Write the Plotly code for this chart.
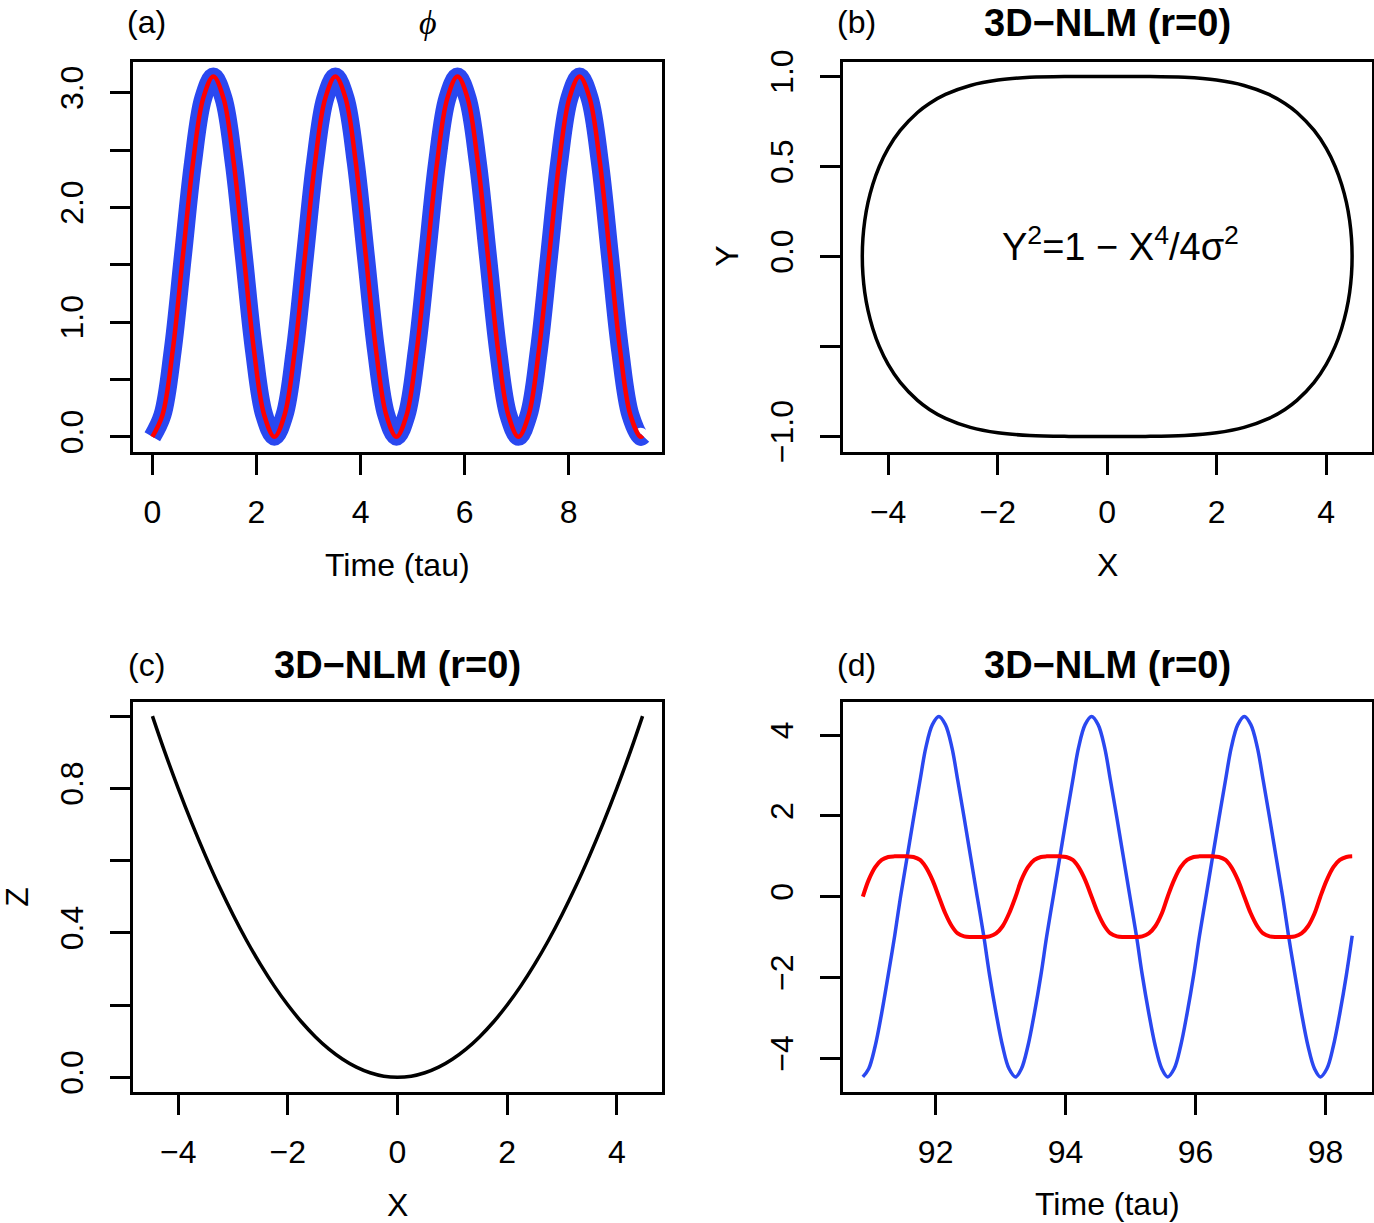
import plotly.graph_objects as go
from plotly.subplots import make_subplots

# (a) phi vs time
t_phi = [0, 0.195, 0.391, 0.586, 0.782, 0.977, 1.172, 1.368, 1.563, 1.759, 1.954, 2.149,
         2.345, 2.540, 2.736, 2.931, 3.126, 3.322, 3.517, 3.713, 3.908, 4.103, 4.299, 4.494,
         4.690, 4.885, 5.080, 5.276, 5.471, 5.667, 5.862, 6.057, 6.253, 6.448, 6.644, 6.839,
         7.034, 7.230, 7.425, 7.621, 7.816, 8.011, 8.207, 8.402, 8.598, 8.793, 8.988, 9.184,
         9.379, 9.42]
phi = [0, 0.190, 0.750, 1.571, 2.392, 2.951, 3.141, 2.951, 2.392, 1.571, 0.750, 0.190,
       0, 0.190, 0.750, 1.571, 2.392, 2.951, 3.141, 2.951, 2.392, 1.571, 0.750, 0.190,
       0, 0.190, 0.750, 1.571, 2.392, 2.951, 3.141, 2.951, 2.392, 1.571, 0.750, 0.190,
       0, 0.190, 0.750, 1.571, 2.392, 2.951, 3.141, 2.951, 2.392, 1.571, 0.750, 0.190,
       0, 0.01]

# (b) closed orbit in X-Y plane
x_upper = [-4.472, -4.461, -4.427, -4.368, -4.281, -4.162, -4.0, -3.779, -3.464, -3.246,
           -2.953, -2.499, -1.995, -1.414, -0.7, 0, 0.7, 1.414, 1.995, 2.499, 2.953, 3.246,
           3.464, 3.779, 4.0, 4.162, 4.281, 4.368, 4.427, 4.461, 4.472]
y_upper = [0, 0.1, 0.2, 0.3, 0.4, 0.5, 0.6, 0.7, 0.8, 0.85, 0.9, 0.95, 0.98, 0.995, 1.0, 1.0,
           1.0, 0.995, 0.98, 0.95, 0.9, 0.85, 0.8, 0.7, 0.6, 0.5, 0.4, 0.3, 0.2, 0.1, 0]
x_lower = [4.461, 4.427, 4.368, 4.281, 4.162, 4.0, 3.779, 3.464, 3.246, 2.953, 2.499, 1.995,
           1.414, 0.7, 0, -0.7, -1.414, -1.995, -2.499, -2.953, -3.246, -3.464, -3.779, -4.0,
           -4.162, -4.281, -4.368, -4.427, -4.461, -4.472]
y_lower = [-0.1, -0.2, -0.3, -0.4, -0.5, -0.6, -0.7, -0.8, -0.85, -0.9, -0.95, -0.98, -0.995,
           -1.0, -1.0, -1.0, -0.995, -0.98, -0.95, -0.9, -0.85, -0.8, -0.7, -0.6, -0.5, -0.4,
           -0.3, -0.2, -0.1, 0]

# (c) Z vs X
x_c = [-4.47, -4.25, -4.0, -3.75, -3.5, -3.25, -3.0, -2.75, -2.5, -2.25, -2.0, -1.75, -1.5,
       -1.25, -1.0, -0.75, -0.5, -0.25, 0, 0.25, 0.5, 0.75, 1.0, 1.25, 1.5, 1.75, 2.0, 2.25,
       2.5, 2.75, 3.0, 3.25, 3.5, 3.75, 4.0, 4.25, 4.47]
z_c = [1.0, 0.903, 0.8, 0.703, 0.6125, 0.528, 0.45, 0.378, 0.3125, 0.253, 0.2, 0.153, 0.1125,
       0.078, 0.05, 0.028, 0.0125, 0.003, 0, 0.003, 0.0125, 0.028, 0.05, 0.078, 0.1125, 0.153,
       0.2, 0.253, 0.3125, 0.378, 0.45, 0.528, 0.6125, 0.703, 0.8, 0.903, 1.0]

# (d) X and Y vs time
t_d = [90.88, 90.97, 91.07, 91.17, 91.27, 91.37, 91.46, 91.56, 91.66, 91.76, 91.85, 91.95,
       92.05, 92.15, 92.25, 92.34, 92.44, 92.54, 92.64, 92.74, 92.83, 92.93, 93.03, 93.13,
       93.23, 93.32, 93.42, 93.52, 93.62, 93.71, 93.81, 93.91, 94.01, 94.11, 94.20, 94.30,
       94.40, 94.50, 94.60, 94.69, 94.79, 94.89, 94.99, 95.09, 95.18, 95.28, 95.38, 95.48,
       95.57, 95.67, 95.77, 95.87, 95.97, 96.06, 96.16, 96.26, 96.36, 96.46, 96.55, 96.65,
       96.75, 96.85, 96.95, 97.04, 97.14, 97.24, 97.34, 97.43, 97.53, 97.63, 97.73, 97.83,
       97.92, 98.02, 98.12, 98.22, 98.32, 98.41]
x_d = [-4.463, -4.261, -3.698, -2.883, -1.942, -0.969, 0, 0.969, 1.942, 2.883, 3.698, 4.261,
       4.463, 4.261, 3.698, 2.883, 1.942, 0.969, 0, -0.969, -1.942, -2.883, -3.698, -4.261,
       -4.463, -4.261, -3.698, -2.883, -1.942, -0.969, 0, 0.969, 1.942, 2.883, 3.698, 4.261,
       4.463, 4.261, 3.698, 2.883, 1.942, 0.969, 0, -0.969, -1.942, -2.883, -3.698, -4.261,
       -4.463, -4.261, -3.698, -2.883, -1.942, -0.969, 0, 0.969, 1.942, 2.883, 3.698, 4.261,
       4.463, 4.261, 3.698, 2.883, 1.942, 0.969, 0, -0.969, -1.942, -2.883, -3.698, -4.261,
       -4.463, -4.261, -3.698, -2.883, -1.942, -0.969]
y_d = [0, 0.416, 0.732, 0.910, 0.982, 0.999, 1, 0.999, 0.982, 0.910, 0.732, 0.416,
       0, -0.416, -0.732, -0.910, -0.982, -0.999, -1, -0.999, -0.982, -0.910, -0.732, -0.416,
       0, 0.416, 0.732, 0.910, 0.982, 0.999, 1, 0.999, 0.982, 0.910, 0.732, 0.416,
       0, -0.416, -0.732, -0.910, -0.982, -0.999, -1, -0.999, -0.982, -0.910, -0.732, -0.416,
       0, 0.416, 0.732, 0.910, 0.982, 0.999, 1, 0.999, 0.982, 0.910, 0.732, 0.416,
       0, -0.416, -0.732, -0.910, -0.982, -0.999, -1, -0.999, -0.982, -0.910, -0.732, -0.416,
       0, 0.416, 0.732, 0.910, 0.982, 0.999]

BLUE = "#2a48f0"
RED = "#ff0000"
FONT = "Liberation Sans, Arial, sans-serif"
W, H = 1374, 1223

fig = make_subplots(rows=2, cols=2)

fig.add_trace(go.Scatter(x=t_phi, y=phi, mode="lines", line=dict(color=BLUE, width=18, shape="spline")), 1, 1)
fig.add_trace(go.Scatter(x=t_phi, y=phi, mode="lines", line=dict(color=RED, width=4.5, shape="spline")), 1, 1)
fig.add_trace(go.Scatter(x=x_upper + x_lower, y=y_upper + y_lower, mode="lines",
                         line=dict(color="black", width=3.5, shape="spline")), 1, 2)
fig.add_trace(go.Scatter(x=x_c, y=z_c, mode="lines", line=dict(color="black", width=3.5, shape="spline")), 2, 1)
fig.add_trace(go.Scatter(x=t_d, y=x_d, mode="lines", line=dict(color=BLUE, width=3.5, shape="spline")), 2, 2)
fig.add_trace(go.Scatter(x=t_d, y=y_d, mode="lines", line=dict(color=RED, width=4, shape="spline")), 2, 2)

axis_style = dict(showline=True, linecolor="black", linewidth=3, mirror=True,
                  ticks="outside", ticklen=20, tickwidth=3, tickcolor="black",
                  showgrid=False, zeroline=False,
                  tickfont=dict(family=FONT, size=32, color="black"))

col_x = [[132.7 / W, 662.3 / W], [842.7 / W, 1371.7 / W]]
row_y = [[1 - 451.7 / H, 1 - 61.7 / H], [1 - 1091.7 / H, 1 - 701.7 / H]]

x_ranges = [[-0.377, 9.797], [-4.83, 4.83], [-4.83, 4.83], [90.57, 98.71]]
y_ranges = [[-0.13, 3.27], [-1.085, 1.082], [-0.04, 1.04], [-4.83, 4.83]]
x_ticks = [[0, 2, 4, 6, 8], [-4, -2, 0, 2, 4], [-4, -2, 0, 2, 4], [92, 94, 96, 98]]
y_ticks = [[0, 1, 2, 3], [-1, 0, 0.5, 1], [0, 0.4, 0.8], [-4, -2, 0, 2, 4]]
y_minor = [[0.5, 1.5, 2.5], [-0.5], [0.2, 0.6, 1.0], []]
y_fmt = [".1f", ".1f", ".1f", "d"]

for i in range(4):
    r, c = divmod(i, 2)
    suffix = "" if i == 0 else str(i + 1)
    fig.layout["xaxis" + suffix].update(domain=col_x[c], range=x_ranges[i], tickvals=x_ticks[i],
                                        ticklabelstandoff=10, **axis_style)
    fig.layout["yaxis" + suffix].update(domain=row_y[r], range=y_ranges[i], tickvals=y_ticks[i],
                                        tickformat=y_fmt[i], tickangle=-90, ticklabelstandoff=14,
                                        minor=dict(tickvals=y_minor[i], ticks="outside", ticklen=20,
                                                   tickwidth=3, tickcolor="black", showgrid=False),
                                        **axis_style)


def label(text, px, py, size=32, angle=0, family=FONT):
    fig.add_annotation(x=px / W, y=1 - py / H, xref="paper", yref="paper", text=text,
                       showarrow=False, xanchor="center", yanchor="middle", textangle=angle,
                       font=dict(family=family, size=size, color="black"))


left_c = (132.7 + 662.3) / 2
right_c = (842.7 + 1371.7) / 2
label("(a)", 146.7, 22)
label("(b)", 856.7, 22)
label("(c)", 146.7, 665)
label("(d)", 856.7, 665)
label("<b>3D−NLM (r=0)</b>", right_c, 23, size=38)
label("<b>3D−NLM (r=0)</b>", left_c, 665, size=38)
label("<b>3D−NLM (r=0)</b>", right_c, 665, size=38)
label("<i>ϕ</i>", 428, 22, size=34, family="Liberation Serif, serif")

label("Time (tau)", left_c, 565)
label("X", right_c, 565)
label("X", left_c, 1205)
label("Time (tau)", right_c, 1204)
label("Y", 726.7, 256, angle=-90)
label("Z", 17, 896.7, angle=-90)
label("Y<sup>2</sup>=1 − X<sup>4</sup>/4σ<sup>2</sup>", 1120, 244, size=38)

fig.update_layout(width=W, height=H, margin=dict(l=0, r=0, t=0, b=0, autoexpand=False),
                  paper_bgcolor="white", plot_bgcolor="white", showlegend=False,
                  font=dict(family=FONT, size=32, color="black"))

fig.write_html("out.html", config={"displayModeBar": False},
               post_script="document.body.style.margin='0px';"
                           "document.body.style.overflow='hidden';")
